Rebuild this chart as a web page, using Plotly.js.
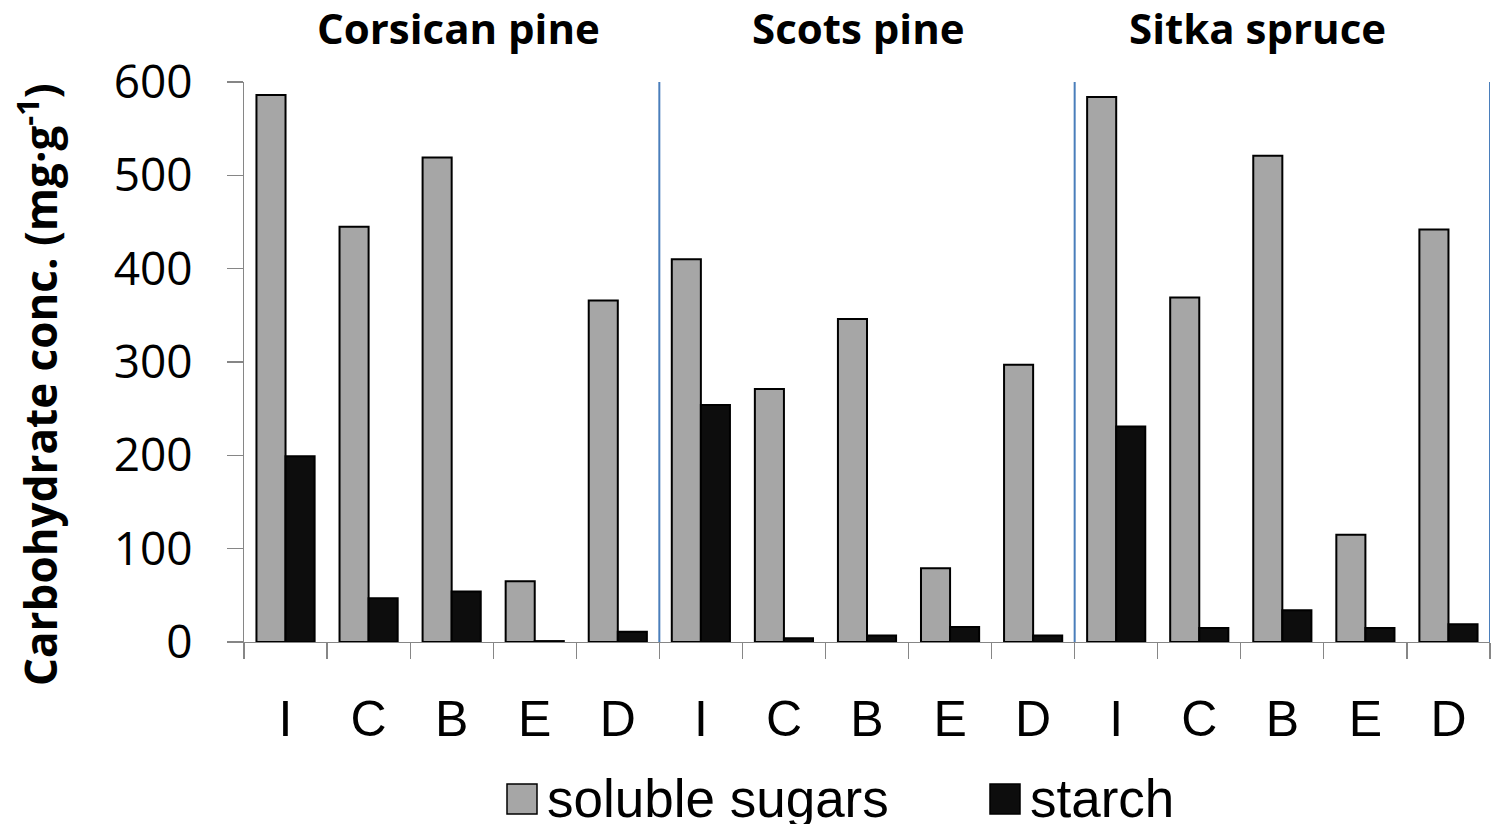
<!DOCTYPE html>
<html>
<head>
<meta charset="utf-8">
<script src="https://cdn.plot.ly/plotly-3.0.1.min.js"></script>
<style>
  html, body { margin: 0; padding: 0; background: #ffffff; }
  #chart { width: 1499px; height: 824px; }
</style>
</head>
<body>
<div id="chart"></div>
<script>
// Species groups and the harvest treatments within each group
const species = ["Corsican pine", "Scots pine", "Sitka spruce"];
const treatments = ["I", "C", "B", "E", "D"];

// Carbohydrate concentrations (mg·g⁻¹), five treatments per species, in species order
const solubleSugars = [586, 445, 519, 65, 366,
                       410, 271, 346, 79, 297,
                       584, 369, 521, 115, 442];
const starch = [199, 47, 54, 1, 11,
                254, 4, 7, 16, 7,
                231, 15, 34, 15, 19];

const seriesNames = ["soluble sugars", "starch"];
const seriesColors = ["#a6a6a6", "#0d0d0d"];

// Bar positions: one slot per species/treatment pair
const positions = solubleSugars.map((_, i) => i);
const tickLabels = species.flatMap(() => treatments);
const boundaries = Array.from({length: positions.length + 1}, (_, i) => i - 0.5);
const speciesDividers = species.map((_, s) => (s + 1) * treatments.length - 0.5);
const speciesCentres = species.map((_, s) => s * treatments.length + 2);

const labelFont = "Liberation Sans, Arial, sans-serif";
const numFont = "Open Sans, Noto Sans, sans-serif";

const traces = [
  {
    type: "bar", name: seriesNames[0], x: positions, y: solubleSugars,
    marker: {color: seriesColors[0], line: {color: "#000000", width: 2}},
    showlegend: false, hoverinfo: "y"
  },
  {
    type: "bar", name: seriesNames[1], x: positions, y: starch,
    marker: {color: seriesColors[1], line: {color: "#000000", width: 2}},
    showlegend: false, hoverinfo: "y"
  }
];

const plotLeft = 244, plotRight = 1490, plotTop = 82, plotBottom = 642;
const pw = plotRight - plotLeft, ph = plotBottom - plotTop;
const px = X => (X - plotLeft) / pw;
const py = Y => (plotBottom - Y) / ph;

const shapes = speciesDividers.map(d => ({
  type: "line", xref: "x", yref: "paper", x0: d, x1: d, y0: 0, y1: 1,
  line: {color: "#4a7ebb", width: 2}, layer: "above"
}));

// Legend keys
const legendKeys = [
  {x0: 507, x1: 537, y0: 784, y1: 814, textX: 545},
  {x0: 990, x1: 1020, y0: 784, y1: 814, textX: 1028}
];
legendKeys.forEach((k, i) => {
  shapes.push({
    type: "rect", xref: "paper", yref: "paper",
    x0: px(k.x0), x1: px(k.x1), y0: py(k.y1), y1: py(k.y0),
    fillcolor: seriesColors[i], line: {color: "#000000", width: 1.5}
  });
});

const annotations = [];
species.forEach((name, s) => {
  annotations.push({
    text: "<b>" + name + "</b>", xref: "x", yref: "paper",
    x: speciesCentres[s] + (s === 0 ? 0.08 : s === 1 ? -0.1 : -0.3), y: py(28),
    xanchor: "center", yanchor: "middle", showarrow: false,
    font: {family: numFont, size: 42, color: "#000000"}
  });
});
seriesNames.forEach((name, i) => {
  annotations.push({
    text: name, xref: "paper", yref: "paper",
    x: px(legendKeys[i].textX), y: py(798), xanchor: "left", yanchor: "middle",
    showarrow: false, font: {family: labelFont, size: 53, color: "#000000"}
  });
});
annotations.push({
  text: "<b>Carbohydrate conc. (mg·g<sup>-1</sup>)</b>",
  xref: "paper", yref: "paper", x: px(38), y: py(385),
  xanchor: "center", yanchor: "middle", textangle: -90, showarrow: false,
  font: {family: numFont, size: 44, color: "#000000"}
});

const layout = {
  width: 1499, height: 824,
  margin: {l: plotLeft, r: 1499 - plotRight, t: plotTop, b: 824 - plotBottom, pad: 0},
  paper_bgcolor: "#ffffff", plot_bgcolor: "#ffffff",
  barmode: "group", bargap: 0.3, bargroupgap: 0,
  showlegend: false,
  xaxis: {
    range: [-0.5, positions.length - 0.5], fixedrange: true,
    tickmode: "array", tickvals: positions, ticktext: tickLabels,
    ticks: "outside", ticklen: 33, tickcolor: "rgba(0,0,0,0)",
    tickfont: {family: labelFont, size: 50, color: "#000000"},
    minor: {
      tickmode: "array", tickvals: boundaries,
      ticks: "outside", ticklen: 16, tickwidth: 1.2, tickcolor: "#868686",
      showgrid: false
    },
    showline: true, linecolor: "#868686", linewidth: 1.2,
    showgrid: false, zeroline: false
  },
  yaxis: {
    range: [0, 600], fixedrange: true,
    tickmode: "array", tickvals: [0, 100, 200, 300, 400, 500, 600],
    ticks: "outside", ticklen: 16, tickwidth: 1.2, tickcolor: "#868686",
    ticklabelstandoff: 25,
    showline: true, linecolor: "#868686", linewidth: 1.2,
    showgrid: false, zeroline: false,
    tickfont: {family: numFont, size: 46, color: "#000000"}
  },
  shapes: shapes,
  annotations: annotations
};

Plotly.newPlot("chart", traces, layout, {staticPlot: true, displayModeBar: false});
</script>
</body>
</html>
